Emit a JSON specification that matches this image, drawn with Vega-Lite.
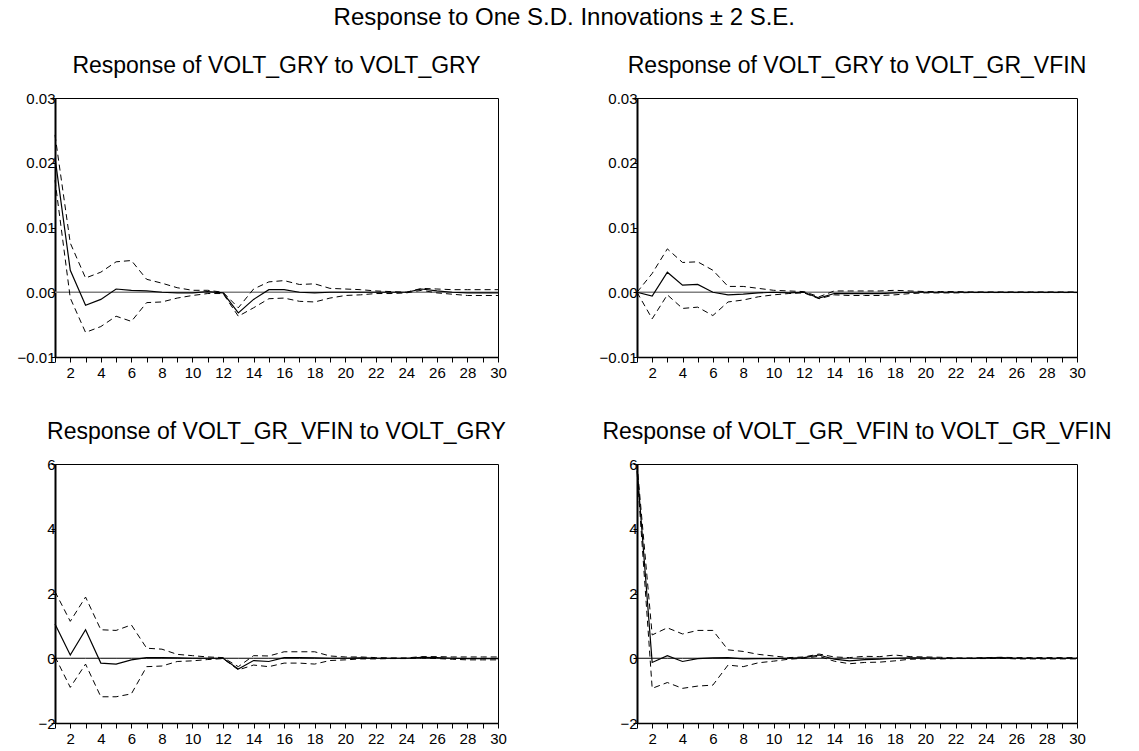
{
  "$schema": "https://vega.github.io/schema/vega-lite/v6.json",
  "background": "white",
  "padding": {"left": 16, "top": 5, "right": 5, "bottom": 5},
  "title": {"text": "Response to One S.D. Innovations ± 2 S.E.", "fontSize": 24, "offset": 25, "anchor": "middle"},
  "columns": 2,
  "spacing": {"row": 107, "column": 139},
  "bounds": "flush",
  "datasets": {
    "irf": [
      {"p":"a","t":1,"r":0.0208,"lo":0.0173,"hi":0.0243},
      {"p":"a","t":2,"r":0.0034,"lo":-0.0009,"hi":0.0076},
      {"p":"a","t":3,"r":-0.0020,"lo":-0.0062,"hi":0.0022},
      {"p":"a","t":4,"r":-0.0011,"lo":-0.0053,"hi":0.0031},
      {"p":"a","t":5,"r":0.0005,"lo":-0.0037,"hi":0.0047},
      {"p":"a","t":6,"r":0.0003,"lo":-0.0045,"hi":0.0049},
      {"p":"a","t":7,"r":0.0002,"lo":-0.0016,"hi":0.0020},
      {"p":"a","t":8,"r":0.0000,"lo":-0.0015,"hi":0.0014},
      {"p":"a","t":9,"r":-0.0001,"lo":-0.0009,"hi":0.0007},
      {"p":"a","t":10,"r":-0.0001,"lo":-0.0005,"hi":0.0003},
      {"p":"a","t":11,"r":0.0001,"lo":-0.0002,"hi":0.0003},
      {"p":"a","t":12,"r":-0.0001,"lo":-0.0002,"hi":0.0000},
      {"p":"a","t":13,"r":-0.0032,"lo":-0.0037,"hi":-0.0024},
      {"p":"a","t":14,"r":-0.0011,"lo":-0.0024,"hi":0.0005},
      {"p":"a","t":15,"r":0.0004,"lo":-0.0010,"hi":0.0016},
      {"p":"a","t":16,"r":0.0004,"lo":-0.0009,"hi":0.0018},
      {"p":"a","t":17,"r":0.0000,"lo":-0.0014,"hi":0.0012},
      {"p":"a","t":18,"r":-0.0001,"lo":-0.0015,"hi":0.0013},
      {"p":"a","t":19,"r":0.0000,"lo":-0.0009,"hi":0.0006},
      {"p":"a","t":20,"r":0.0000,"lo":-0.0005,"hi":0.0005},
      {"p":"a","t":21,"r":0.0000,"lo":-0.0004,"hi":0.0004},
      {"p":"a","t":22,"r":0.0000,"lo":-0.0002,"hi":0.0002},
      {"p":"a","t":23,"r":0.0000,"lo":-0.0002,"hi":0.0001},
      {"p":"a","t":24,"r":0.0000,"lo":-0.0001,"hi":0.0000},
      {"p":"a","t":25,"r":0.0005,"lo":0.0003,"hi":0.0006},
      {"p":"a","t":26,"r":0.0002,"lo":-0.0001,"hi":0.0005},
      {"p":"a","t":27,"r":0.0000,"lo":-0.0003,"hi":0.0004},
      {"p":"a","t":28,"r":-0.0001,"lo":-0.0005,"hi":0.0004},
      {"p":"a","t":29,"r":-0.0001,"lo":-0.0005,"hi":0.0004},
      {"p":"a","t":30,"r":-0.0001,"lo":-0.0005,"hi":0.0004},

      {"p":"b","t":1,"r":0.0000,"lo":0.0000,"hi":0.0000},
      {"p":"b","t":2,"r":-0.0006,"lo":-0.0041,"hi":0.0029},
      {"p":"b","t":3,"r":0.0031,"lo":-0.0004,"hi":0.0067},
      {"p":"b","t":4,"r":0.0011,"lo":-0.0025,"hi":0.0046},
      {"p":"b","t":5,"r":0.0012,"lo":-0.0023,"hi":0.0047},
      {"p":"b","t":6,"r":0.0000,"lo":-0.0036,"hi":0.0034},
      {"p":"b","t":7,"r":-0.0004,"lo":-0.0015,"hi":0.0009},
      {"p":"b","t":8,"r":-0.0003,"lo":-0.0012,"hi":0.0009},
      {"p":"b","t":9,"r":-0.0001,"lo":-0.0007,"hi":0.0006},
      {"p":"b","t":10,"r":0.0000,"lo":-0.0004,"hi":0.0003},
      {"p":"b","t":11,"r":-0.0001,"lo":-0.0002,"hi":0.0002},
      {"p":"b","t":12,"r":0.0000,"lo":-0.0001,"hi":0.0001},
      {"p":"b","t":13,"r":-0.0009,"lo":-0.0010,"hi":-0.0007},
      {"p":"b","t":14,"r":-0.0002,"lo":-0.0004,"hi":0.0002},
      {"p":"b","t":15,"r":-0.0002,"lo":-0.0005,"hi":0.0002},
      {"p":"b","t":16,"r":-0.0002,"lo":-0.0005,"hi":0.0002},
      {"p":"b","t":17,"r":-0.0002,"lo":-0.0005,"hi":0.0002},
      {"p":"b","t":18,"r":-0.0001,"lo":-0.0004,"hi":0.0003},
      {"p":"b","t":19,"r":0.0000,"lo":-0.0002,"hi":0.0002},
      {"p":"b","t":20,"r":0.0000,"lo":-0.0001,"hi":0.0001},
      {"p":"b","t":21,"r":0.0000,"lo":-0.0001,"hi":0.0001},
      {"p":"b","t":22,"r":0.0000,"lo":-0.0001,"hi":0.0001},
      {"p":"b","t":23,"r":0.0000,"lo":-0.00005,"hi":0.00005},
      {"p":"b","t":24,"r":0.0000,"lo":-0.00005,"hi":0.00005},
      {"p":"b","t":25,"r":0.0000,"lo":-0.00005,"hi":0.00005},
      {"p":"b","t":26,"r":0.0000,"lo":-0.00005,"hi":0.00005},
      {"p":"b","t":27,"r":0.0000,"lo":-0.00005,"hi":0.00005},
      {"p":"b","t":28,"r":0.0000,"lo":-0.00005,"hi":0.00005},
      {"p":"b","t":29,"r":0.0000,"lo":-0.00005,"hi":0.00005},
      {"p":"b","t":30,"r":0.0000,"lo":-0.00005,"hi":0.00005},

      {"p":"c","t":1,"r":1.06,"lo":0.05,"hi":2.06},
      {"p":"c","t":2,"r":0.10,"lo":-0.90,"hi":1.14},
      {"p":"c","t":3,"r":0.88,"lo":-0.18,"hi":1.89},
      {"p":"c","t":4,"r":-0.15,"lo":-1.19,"hi":0.88},
      {"p":"c","t":5,"r":-0.18,"lo":-1.19,"hi":0.86},
      {"p":"c","t":6,"r":-0.05,"lo":-1.10,"hi":1.03},
      {"p":"c","t":7,"r":0.02,"lo":-0.26,"hi":0.31},
      {"p":"c","t":8,"r":0.02,"lo":-0.24,"hi":0.28},
      {"p":"c","t":9,"r":0.01,"lo":-0.10,"hi":0.12},
      {"p":"c","t":10,"r":0.00,"lo":-0.08,"hi":0.08},
      {"p":"c","t":11,"r":0.00,"lo":-0.04,"hi":0.04},
      {"p":"c","t":12,"r":0.00,"lo":-0.01,"hi":0.02},
      {"p":"c","t":13,"r":-0.33,"lo":-0.36,"hi":-0.26},
      {"p":"c","t":14,"r":-0.07,"lo":-0.21,"hi":0.08},
      {"p":"c","t":15,"r":-0.10,"lo":-0.26,"hi":0.07},
      {"p":"c","t":16,"r":0.02,"lo":-0.15,"hi":0.20},
      {"p":"c","t":17,"r":0.02,"lo":-0.15,"hi":0.20},
      {"p":"c","t":18,"r":0.01,"lo":-0.18,"hi":0.20},
      {"p":"c","t":19,"r":0.00,"lo":-0.07,"hi":0.07},
      {"p":"c","t":20,"r":0.00,"lo":-0.05,"hi":0.04},
      {"p":"c","t":21,"r":0.01,"lo":-0.02,"hi":0.04},
      {"p":"c","t":22,"r":0.00,"lo":-0.02,"hi":0.02},
      {"p":"c","t":23,"r":0.00,"lo":-0.01,"hi":0.01},
      {"p":"c","t":24,"r":0.00,"lo":-0.01,"hi":0.01},
      {"p":"c","t":25,"r":0.03,"lo":0.01,"hi":0.05},
      {"p":"c","t":26,"r":0.02,"lo":-0.01,"hi":0.05},
      {"p":"c","t":27,"r":0.00,"lo":-0.03,"hi":0.04},
      {"p":"c","t":28,"r":-0.01,"lo":-0.05,"hi":0.04},
      {"p":"c","t":29,"r":-0.01,"lo":-0.05,"hi":0.04},
      {"p":"c","t":30,"r":-0.01,"lo":-0.05,"hi":0.04},

      {"p":"d","t":1,"r":5.90,"lo":5.78,"hi":6.00},
      {"p":"d","t":2,"r":-0.13,"lo":-0.93,"hi":0.72},
      {"p":"d","t":3,"r":0.08,"lo":-0.75,"hi":0.94},
      {"p":"d","t":4,"r":-0.10,"lo":-0.93,"hi":0.75},
      {"p":"d","t":5,"r":-0.01,"lo":-0.86,"hi":0.86},
      {"p":"d","t":6,"r":0.01,"lo":-0.83,"hi":0.86},
      {"p":"d","t":7,"r":0.02,"lo":-0.21,"hi":0.26},
      {"p":"d","t":8,"r":-0.02,"lo":-0.26,"hi":0.21},
      {"p":"d","t":9,"r":-0.01,"lo":-0.14,"hi":0.12},
      {"p":"d","t":10,"r":-0.01,"lo":-0.09,"hi":0.07},
      {"p":"d","t":11,"r":0.00,"lo":-0.03,"hi":0.02},
      {"p":"d","t":12,"r":0.02,"lo":0.00,"hi":0.04},
      {"p":"d","t":13,"r":0.10,"lo":0.06,"hi":0.13},
      {"p":"d","t":14,"r":-0.03,"lo":-0.09,"hi":0.04},
      {"p":"d","t":15,"r":-0.08,"lo":-0.17,"hi":0.02},
      {"p":"d","t":16,"r":-0.04,"lo":-0.13,"hi":0.06},
      {"p":"d","t":17,"r":-0.03,"lo":-0.12,"hi":0.05},
      {"p":"d","t":18,"r":0.00,"lo":-0.08,"hi":0.10},
      {"p":"d","t":19,"r":0.01,"lo":-0.03,"hi":0.05},
      {"p":"d","t":20,"r":0.01,"lo":-0.02,"hi":0.04},
      {"p":"d","t":21,"r":0.00,"lo":-0.02,"hi":0.03},
      {"p":"d","t":22,"r":0.00,"lo":-0.01,"hi":0.01},
      {"p":"d","t":23,"r":0.00,"lo":-0.01,"hi":0.01},
      {"p":"d","t":24,"r":0.01,"lo":-0.01,"hi":0.02},
      {"p":"d","t":25,"r":0.02,"lo":0.00,"hi":0.03},
      {"p":"d","t":26,"r":0.00,"lo":-0.02,"hi":0.02},
      {"p":"d","t":27,"r":0.00,"lo":-0.02,"hi":0.02},
      {"p":"d","t":28,"r":0.00,"lo":-0.02,"hi":0.02},
      {"p":"d","t":29,"r":0.00,"lo":-0.02,"hi":0.02},
      {"p":"d","t":30,"r":0.00,"lo":-0.02,"hi":0.02}
    ]
  },
  "concat": [
    {
      "width": 443, "height": 259,
      "title": "Response of VOLT_GRY to VOLT_GRY",
      "data": {"name": "irf"},
      "transform": [{"filter": "datum.p === 'a'"}],
      "encoding": {
        "x": {"field": "t", "type": "quantitative", "scale": {"domain": [1, 30], "nice": false, "zero": false},
              "axis": {"values": [1,2,3,4,5,6,7,8,9,10,11,12,13,14,15,16,17,18,19,20,21,22,23,24,25,26,27,28,29,30], "format": "d", "labelExpr": "datum.value % 2 === 0 ? datum.label : ''"}}
      },
      "layer": [
        {"mark": {"type": "line", "color": "#808080", "strokeWidth": 1.5}, "encoding": {"y": {"datum": 0, "type": "quantitative", "scale": {"domain": [-0.01, 0.03], "nice": false, "zero": false}, "axis": {"values": [-0.01, 0, 0.01, 0.02, 0.03], "format": ".2f"}}}},
        {"mark": {"type": "line", "color": "black", "strokeWidth": 1.2}, "encoding": {"y": {"field": "r", "type": "quantitative"}}},
        {"mark": {"type": "line", "color": "black", "strokeWidth": 1, "strokeDash": [6, 4]}, "encoding": {"y": {"field": "lo", "type": "quantitative"}}},
        {"mark": {"type": "line", "color": "black", "strokeWidth": 1, "strokeDash": [6, 4]}, "encoding": {"y": {"field": "hi", "type": "quantitative"}}}
      ]
    },
    {
      "width": 440, "height": 259,
      "title": "Response of VOLT_GRY to VOLT_GR_VFIN",
      "data": {"name": "irf"},
      "transform": [{"filter": "datum.p === 'b'"}],
      "encoding": {
        "x": {"field": "t", "type": "quantitative", "scale": {"domain": [1, 30], "nice": false, "zero": false},
              "axis": {"values": [1,2,3,4,5,6,7,8,9,10,11,12,13,14,15,16,17,18,19,20,21,22,23,24,25,26,27,28,29,30], "format": "d", "labelExpr": "datum.value % 2 === 0 ? datum.label : ''"}}
      },
      "layer": [
        {"mark": {"type": "line", "color": "#808080", "strokeWidth": 1.5}, "encoding": {"y": {"datum": 0, "type": "quantitative", "scale": {"domain": [-0.01, 0.03], "nice": false, "zero": false}, "axis": {"values": [-0.01, 0, 0.01, 0.02, 0.03], "format": ".2f"}}}},
        {"mark": {"type": "line", "color": "black", "strokeWidth": 1.2}, "encoding": {"y": {"field": "r", "type": "quantitative"}}},
        {"mark": {"type": "line", "color": "black", "strokeWidth": 1, "strokeDash": [6, 4]}, "encoding": {"y": {"field": "lo", "type": "quantitative"}}},
        {"mark": {"type": "line", "color": "black", "strokeWidth": 1, "strokeDash": [6, 4]}, "encoding": {"y": {"field": "hi", "type": "quantitative"}}}
      ]
    },
    {
      "width": 443, "height": 259,
      "title": "Response of VOLT_GR_VFIN to VOLT_GRY",
      "data": {"name": "irf"},
      "transform": [{"filter": "datum.p === 'c'"}],
      "encoding": {
        "x": {"field": "t", "type": "quantitative", "scale": {"domain": [1, 30], "nice": false, "zero": false},
              "axis": {"values": [1,2,3,4,5,6,7,8,9,10,11,12,13,14,15,16,17,18,19,20,21,22,23,24,25,26,27,28,29,30], "format": "d", "labelExpr": "datum.value % 2 === 0 ? datum.label : ''"}}
      },
      "layer": [
        {"mark": {"type": "line", "color": "black", "strokeWidth": 1}, "encoding": {"y": {"datum": 0, "type": "quantitative", "scale": {"domain": [-2, 6], "nice": false, "zero": false}, "axis": {"values": [-2, 0, 2, 4, 6], "format": "d"}}}},
        {"mark": {"type": "line", "color": "black", "strokeWidth": 1.2}, "encoding": {"y": {"field": "r", "type": "quantitative"}}},
        {"mark": {"type": "line", "color": "black", "strokeWidth": 1, "strokeDash": [6, 4]}, "encoding": {"y": {"field": "lo", "type": "quantitative"}}},
        {"mark": {"type": "line", "color": "black", "strokeWidth": 1, "strokeDash": [6, 4]}, "encoding": {"y": {"field": "hi", "type": "quantitative"}}}
      ]
    },
    {
      "width": 440, "height": 259,
      "title": "Response of VOLT_GR_VFIN to VOLT_GR_VFIN",
      "data": {"name": "irf"},
      "transform": [{"filter": "datum.p === 'd'"}],
      "encoding": {
        "x": {"field": "t", "type": "quantitative", "scale": {"domain": [1, 30], "nice": false, "zero": false},
              "axis": {"values": [1,2,3,4,5,6,7,8,9,10,11,12,13,14,15,16,17,18,19,20,21,22,23,24,25,26,27,28,29,30], "format": "d", "labelExpr": "datum.value % 2 === 0 ? datum.label : ''"}}
      },
      "layer": [
        {"mark": {"type": "line", "color": "black", "strokeWidth": 1}, "encoding": {"y": {"datum": 0, "type": "quantitative", "scale": {"domain": [-2, 6], "nice": false, "zero": false}, "axis": {"values": [-2, 0, 2, 4, 6], "format": "d"}}}},
        {"mark": {"type": "line", "color": "black", "strokeWidth": 1.2}, "encoding": {"y": {"field": "r", "type": "quantitative"}}},
        {"mark": {"type": "line", "color": "black", "strokeWidth": 1, "strokeDash": [6, 4]}, "encoding": {"y": {"field": "lo", "type": "quantitative"}}},
        {"mark": {"type": "line", "color": "black", "strokeWidth": 1, "strokeDash": [6, 4]}, "encoding": {"y": {"field": "hi", "type": "quantitative"}}}
      ]
    }
  ],
  "config": {
    "font": "Liberation Sans",
    "view": {"stroke": "black", "strokeWidth": 1},
    "title": {"font": "Liberation Sans", "fontSize": 23, "fontWeight": "normal", "color": "black", "offset": 13},
    "axis": {"title": null, "grid": false, "labelFont": "Liberation Sans", "labelFontSize": 15, "labelColor": "black", "tickColor": "black", "domainColor": "black"},
    "axisX": {"tickSize": 5, "labelPadding": 3, "labelFlush": false, "labelOverlap": false, "domainWidth": 1.5},
    "axisY": {"tickSize": 4, "labelPadding": -4, "labelOverlap": false, "domainWidth": 2}
  }
}
